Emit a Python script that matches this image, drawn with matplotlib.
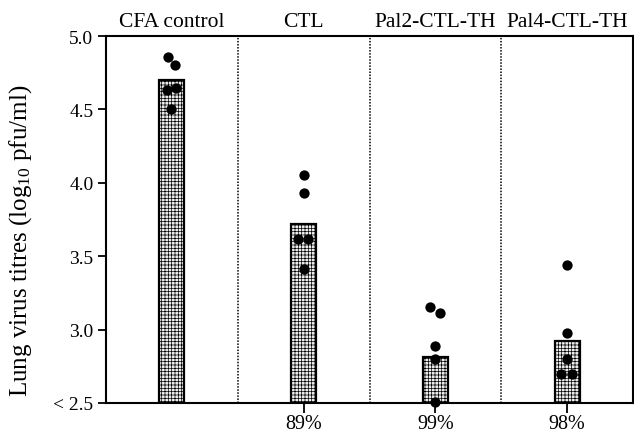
import matplotlib
matplotlib.use("Agg")
import matplotlib.pyplot as plt

groups = ["CFA control", "CTL", "Pal2-CTL-TH", "Pal4-CTL-TH"]
bar_means = [4.70, 3.72, 2.81, 2.92]
reductions = ["", "89%", "99%", "98%"]
dots_cfa = [4.86, 4.80, 4.63, 4.645, 4.505]
dots_ctl = [4.05, 3.93, 3.62, 3.62, 3.415]
dots_pal2 = [3.155, 3.11, 2.885, 2.80, 2.507]
dots_pal4 = [3.44, 2.98, 2.80, 2.70, 2.70]
yticks = [2.5, 3.0, 3.5, 4.0, 4.5, 5.0]
ytick_labels = ["< 2.5", "3.0", "3.5", "4.0", "4.5", "5.0"]

# horizontal jitter of dots (style only)
jit_cfa = [-0.03, 0.02, -0.04, 0.035, -0.01]
jit_ctl = [0.0, 0.0, -0.04, 0.03, 0.0]
jit_pal2 = [-0.04, 0.035, 0.0, 0.0, 0.0]
jit_pal4 = [0.0, 0.0, 0.0, -0.045, 0.035]

plt.rcParams['font.family'] = ['Liberation Serif', 'DejaVu Serif']
plt.rcParams['mathtext.fontset'] = 'custom'
plt.rcParams['mathtext.rm'] = 'Liberation Serif'
plt.rcParams['mathtext.it'] = 'Liberation Serif:italic'
plt.rcParams['hatch.color'] = '#a8a8a8'
plt.rcParams['hatch.linewidth'] = 0.5

fig = plt.figure(figsize=(6.34, 4.35), dpi=100)
ax = fig.add_axes([106/634, 31/435, 527/634, 367/435])

x = list(range(len(groups)))
ax.bar(x, [m - 2.5 for m in bar_means], bottom=2.5, width=0.19,
       facecolor='#ececec', edgecolor='black', linewidth=1.6, hatch='+++++', zorder=2)

for i, (vals, jit) in enumerate([(dots_cfa, jit_cfa), (dots_ctl, jit_ctl),
                                  (dots_pal2, jit_pal2), (dots_pal4, jit_pal4)]):
    ax.scatter([i + j for j in jit], vals, s=55, color='black', zorder=4, clip_on=False,
               linewidths=0)

for xd in [0.5, 1.5, 2.5]:
    ax.axvline(xd, color='black', linestyle=(0, (1, 1)), linewidth=1.1, zorder=1)

ax.set_xlim(-0.5, 3.5)
ax.set_ylim(2.5, 5.0)
ax.set_yticks(yticks)
ax.set_yticklabels(ytick_labels, fontsize=14)
ax.set_xticks([1, 2, 3])
ax.set_xticklabels(reductions[1:], fontsize=14.5)
ax.tick_params(axis='y', direction='out', length=6, width=1.3, pad=3)
ax.tick_params(axis='x', direction='out', length=7, width=1.3, pad=1)

for s in ax.spines.values():
    s.set_linewidth(1.5)

for i, g in enumerate(groups):
    ax.text(i, 5.035, g, ha='center', va='bottom', fontsize=15.5)

ax.set_ylabel("Lung virus titres (log$_{\\mathrm{10}}$ pfu/ml)", fontsize=18)
ax.yaxis.set_label_coords(-0.136, 0.445)

fig.savefig("out.png", dpi=100)
